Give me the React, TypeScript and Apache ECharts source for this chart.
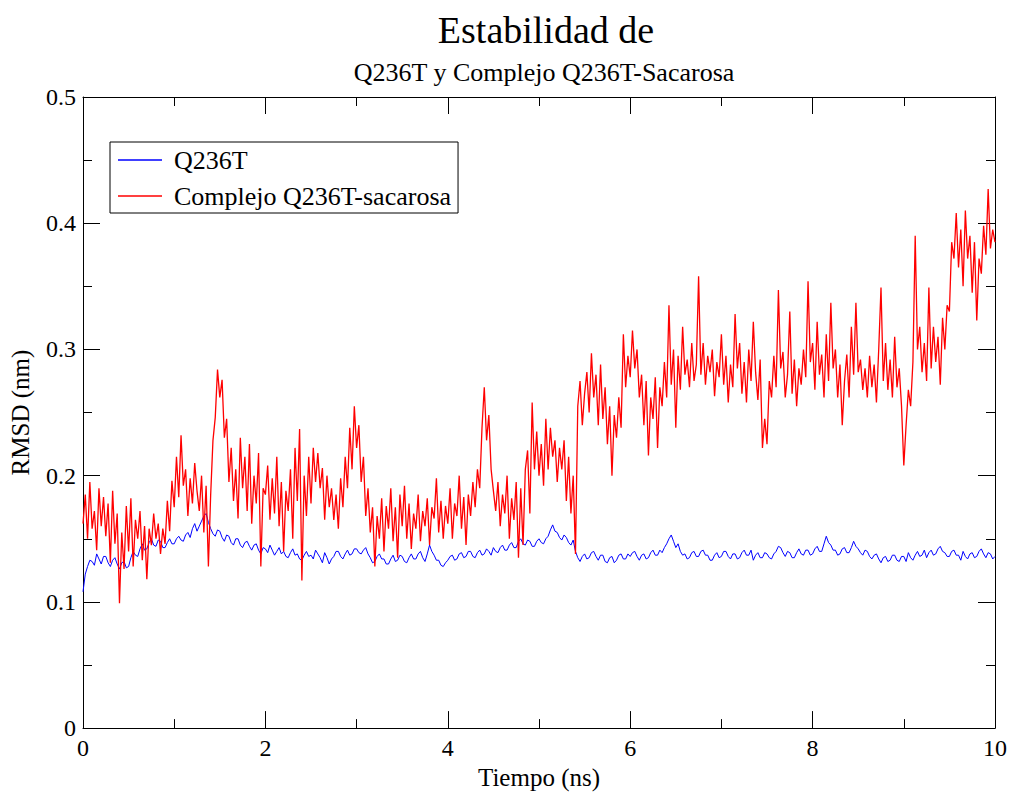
import React, { useEffect, useRef } from "react";
import * as echarts from "echarts";

// Text
const TITLE = "Estabilidad de";
const SUBTITLE = "Q236T y Complejo Q236T-Sacarosa";
const X_NAME = "Tiempo (ns)";
const Y_NAME = "RMSD (nm)";
const NAME_FREE = "Q236T";
const NAME_COMPLEX = "Complejo Q236T-sacarosa";

// Sampling interval of both trajectories (ns)
const STEP = 0.025;

// RMSD (nm) of the free protein, one value every STEP ns from 0 to 10
const rmsdFree = [
  0.108, 0.122, 0.128, 0.133, 0.132, 0.129, 0.138, 0.134, 0.130, 0.136, 0.136, 0.131, 0.128, 0.133, 0.135, 0.130, 0.126, 0.131, 0.132, 0.127,
  0.128, 0.135, 0.140, 0.137, 0.136, 0.142, 0.146, 0.141, 0.142, 0.147, 0.150, 0.145, 0.144, 0.149, 0.148, 0.143, 0.143, 0.147, 0.150, 0.146,
  0.146, 0.150, 0.152, 0.149, 0.148, 0.153, 0.155, 0.151, 0.158, 0.162, 0.156, 0.160, 0.164, 0.168, 0.170, 0.163, 0.158, 0.154, 0.152, 0.157,
  0.156, 0.151, 0.148, 0.153, 0.152, 0.147, 0.145, 0.150, 0.150, 0.145, 0.143, 0.147, 0.148, 0.144, 0.141, 0.145, 0.146, 0.141, 0.138, 0.143,
  0.142, 0.139, 0.145, 0.141, 0.137, 0.140, 0.143, 0.138, 0.140, 0.136, 0.135, 0.139, 0.142, 0.137, 0.138, 0.134, 0.133, 0.137, 0.140, 0.136,
  0.137, 0.134, 0.141, 0.138, 0.135, 0.131, 0.139, 0.135, 0.130, 0.134, 0.136, 0.140, 0.140, 0.136, 0.134, 0.138, 0.141, 0.137, 0.138, 0.142,
  0.142, 0.139, 0.138, 0.141, 0.143, 0.138, 0.135, 0.131, 0.132, 0.136, 0.138, 0.134, 0.134, 0.130, 0.130, 0.134, 0.137, 0.132, 0.133, 0.137,
  0.136, 0.132, 0.131, 0.135, 0.138, 0.134, 0.134, 0.138, 0.140, 0.135, 0.132, 0.138, 0.145, 0.140, 0.137, 0.133, 0.133, 0.129, 0.128, 0.131,
  0.133, 0.136, 0.137, 0.133, 0.134, 0.138, 0.139, 0.135, 0.136, 0.140, 0.140, 0.136, 0.135, 0.139, 0.141, 0.137, 0.138, 0.142, 0.140, 0.137,
  0.143, 0.140, 0.139, 0.143, 0.145, 0.141, 0.141, 0.145, 0.147, 0.143, 0.143, 0.148, 0.150, 0.146, 0.145, 0.149, 0.148, 0.144, 0.144, 0.148,
  0.150, 0.147, 0.146, 0.150, 0.152, 0.157, 0.161, 0.156, 0.155, 0.151, 0.149, 0.153, 0.151, 0.147, 0.145, 0.149, 0.140, 0.135, 0.132, 0.136,
  0.138, 0.134, 0.135, 0.139, 0.140, 0.136, 0.133, 0.137, 0.137, 0.132, 0.131, 0.135, 0.136, 0.131, 0.133, 0.137, 0.138, 0.134, 0.134, 0.138,
  0.136, 0.139, 0.140, 0.136, 0.133, 0.137, 0.138, 0.134, 0.135, 0.139, 0.141, 0.137, 0.137, 0.141, 0.139, 0.143, 0.146, 0.150, 0.153, 0.148,
  0.143, 0.146, 0.140, 0.137, 0.138, 0.134, 0.135, 0.139, 0.140, 0.136, 0.136, 0.140, 0.141, 0.137, 0.137, 0.133, 0.133, 0.137, 0.139, 0.135,
  0.136, 0.140, 0.140, 0.136, 0.134, 0.138, 0.138, 0.134, 0.135, 0.139, 0.141, 0.137, 0.137, 0.141, 0.133, 0.137, 0.139, 0.135, 0.135, 0.139,
  0.138, 0.135, 0.134, 0.138, 0.140, 0.144, 0.143, 0.139, 0.136, 0.140, 0.139, 0.135, 0.135, 0.139, 0.142, 0.138, 0.137, 0.141, 0.141, 0.137,
  0.138, 0.142, 0.144, 0.140, 0.140, 0.146, 0.152, 0.147, 0.145, 0.141, 0.141, 0.137, 0.138, 0.142, 0.143, 0.139, 0.139, 0.143, 0.148, 0.144,
  0.142, 0.139, 0.137, 0.141, 0.140, 0.136, 0.134, 0.137, 0.138, 0.134, 0.131, 0.135, 0.136, 0.132, 0.133, 0.137, 0.137, 0.133, 0.132, 0.136,
  0.136, 0.132, 0.139, 0.135, 0.133, 0.137, 0.140, 0.136, 0.137, 0.141, 0.135, 0.139, 0.141, 0.137, 0.138, 0.142, 0.144, 0.140, 0.139, 0.136,
  0.136, 0.140, 0.141, 0.137, 0.137, 0.133, 0.140, 0.136, 0.134, 0.138, 0.139, 0.135, 0.136, 0.140, 0.142, 0.138, 0.135, 0.139, 0.138, 0.134,
  0.136,
];

// RMSD (nm) of the protein-sucrose complex, one value every STEP ns from 0 to 10
const rmsdComplex = [
  0.162, 0.185, 0.150, 0.195, 0.158, 0.172, 0.141, 0.190, 0.160, 0.183,
  0.152, 0.178, 0.131, 0.188, 0.146, 0.170, 0.099, 0.155, 0.126, 0.176,
  0.140, 0.182, 0.128, 0.165, 0.150, 0.172, 0.133, 0.160, 0.118, 0.158,
  0.145, 0.170, 0.150, 0.162, 0.138, 0.158, 0.146, 0.180, 0.156, 0.196,
  0.175, 0.215, 0.183, 0.232, 0.192, 0.205, 0.168, 0.198, 0.178, 0.210,
  0.188, 0.172, 0.200, 0.155, 0.192, 0.128, 0.185, 0.228, 0.246, 0.284,
  0.262, 0.276, 0.230, 0.245, 0.195, 0.222, 0.180, 0.205, 0.166, 0.230,
  0.190, 0.215, 0.172, 0.225, 0.162, 0.200, 0.178, 0.218, 0.128, 0.190,
  0.185, 0.208, 0.165, 0.198, 0.170, 0.215, 0.160, 0.195, 0.140, 0.188,
  0.172, 0.205, 0.150, 0.222, 0.180, 0.237, 0.117, 0.200, 0.168, 0.215,
  0.178, 0.222, 0.195, 0.218, 0.190, 0.206, 0.165, 0.200, 0.175, 0.190,
  0.165, 0.185, 0.158, 0.198, 0.175, 0.215, 0.190, 0.238, 0.205, 0.255,
  0.222, 0.240, 0.195, 0.215, 0.168, 0.190, 0.155, 0.175, 0.128, 0.168,
  0.150, 0.182, 0.140, 0.176, 0.158, 0.190, 0.148, 0.175, 0.135, 0.185,
  0.160, 0.192, 0.150, 0.178, 0.142, 0.170, 0.158, 0.185, 0.148, 0.172,
  0.160, 0.182, 0.145, 0.175, 0.166, 0.198, 0.155, 0.180, 0.150, 0.176,
  0.162, 0.190, 0.150, 0.178, 0.168, 0.200, 0.158, 0.183, 0.145, 0.185,
  0.168, 0.195, 0.175, 0.205, 0.190, 0.238, 0.270, 0.228, 0.248, 0.205,
  0.188, 0.172, 0.195, 0.160, 0.185, 0.170, 0.200, 0.150, 0.182, 0.165,
  0.195, 0.135, 0.190, 0.145, 0.205, 0.220, 0.170, 0.258, 0.205, 0.235,
  0.200, 0.225, 0.192, 0.245, 0.205, 0.238, 0.215, 0.228, 0.195, 0.222,
  0.205, 0.228, 0.180, 0.215, 0.170, 0.200, 0.138, 0.255, 0.275, 0.240,
  0.265, 0.282, 0.250, 0.297, 0.262, 0.280, 0.240, 0.288, 0.245, 0.270,
  0.225, 0.255, 0.200, 0.248, 0.230, 0.262, 0.238, 0.312, 0.270, 0.295,
  0.278, 0.315, 0.285, 0.300, 0.262, 0.280, 0.240, 0.275, 0.216, 0.262,
  0.245, 0.278, 0.222, 0.270, 0.255, 0.290, 0.262, 0.335, 0.272, 0.300,
  0.238, 0.295, 0.268, 0.318, 0.280, 0.292, 0.270, 0.305, 0.275, 0.288,
  0.358, 0.280, 0.305, 0.272, 0.295, 0.282, 0.300, 0.263, 0.290, 0.278,
  0.312, 0.272, 0.295, 0.258, 0.288, 0.270, 0.328, 0.285, 0.305, 0.265,
  0.290, 0.258, 0.300, 0.275, 0.322, 0.282, 0.260, 0.292, 0.222, 0.245,
  0.225, 0.275, 0.262, 0.295, 0.270, 0.347, 0.285, 0.298, 0.262, 0.280,
  0.330, 0.265, 0.292, 0.255, 0.285, 0.272, 0.300, 0.278, 0.354, 0.290,
  0.305, 0.268, 0.322, 0.280, 0.296, 0.262, 0.312, 0.275, 0.337, 0.285,
  0.300, 0.262, 0.288, 0.240, 0.275, 0.296, 0.262, 0.318, 0.280, 0.337,
  0.282, 0.292, 0.268, 0.285, 0.262, 0.295, 0.270, 0.288, 0.258, 0.300,
  0.349, 0.275, 0.305, 0.268, 0.292, 0.262, 0.310, 0.270, 0.285, 0.255,
  0.208, 0.240, 0.268, 0.255, 0.290, 0.390, 0.300, 0.318, 0.282, 0.305,
  0.275, 0.349, 0.285, 0.318, 0.290, 0.310, 0.272, 0.325, 0.300, 0.335,
  0.330, 0.385, 0.372, 0.408, 0.365, 0.395, 0.350, 0.410, 0.372, 0.390,
  0.345, 0.385, 0.323, 0.372, 0.360, 0.398, 0.375, 0.427, 0.380, 0.395,
  0.385,
];

const FONT = "Liberation Serif";
const BLUE = "#0000ff";
const RED = "#ff0000";

const toPairs = (values: number[], step: number) =>
  values.map((v, i) => [Number((i * step).toFixed(3)), v]);

const frameAxis = {
  axisLine: { show: true, onZero: false, lineStyle: { color: "#000", width: 1 } },
  axisTick: { show: true, inside: true, length: 17, lineStyle: { color: "#000", width: 1 } },
  minorTick: { show: true, splitNumber: 2, length: 9, lineStyle: { color: "#000", width: 1 } },
  splitLine: { show: false },
  minorSplitLine: { show: false },
};

export default function App() {
  const ref = useRef<HTMLDivElement>(null);

  useEffect(() => {
    if (!ref.current) return;
    const chart = echarts.init(ref.current, null, { renderer: "svg" });

    const xBase = { type: "value", min: 0, max: 10, interval: 2, ...frameAxis };
    const yBase = { type: "value", min: 0, max: 0.5, interval: 0.1, ...frameAxis };
    const labelFont = { fontFamily: FONT, fontSize: 24, color: "#000" };
    const nameFont = { fontFamily: FONT, fontSize: 25, color: "#000" };

    chart.setOption({
      animation: false,
      backgroundColor: "#fff",
      textStyle: { fontFamily: FONT },
      title: [
        {
          text: TITLE,
          left: 541,
          top: 6,
          textAlign: "center",
          textStyle: { fontFamily: FONT, fontSize: 38, fontWeight: "normal", color: "#000" },
        },
        {
          text: SUBTITLE,
          left: 539,
          top: 54,
          textAlign: "center",
          textStyle: { fontFamily: FONT, fontSize: 26, fontWeight: "normal", color: "#000" },
        },
      ],
      grid: { left: 83, right: 16, top: 97, bottom: 59, containLabel: false },
      legend: {
        orient: "vertical",
        left: 110,
        top: 142,
        data: [
          { name: NAME_FREE, icon: "rect", itemStyle: { color: BLUE } },
          { name: NAME_COMPLEX, icon: "rect", itemStyle: { color: RED } },
        ],
        itemWidth: 44,
        itemHeight: 1.5,
        itemGap: 10,
        padding: [5, 7, 4, 8],
        borderColor: "#000",
        borderWidth: 1,
        backgroundColor: "#fff",
        textStyle: { fontFamily: FONT, fontSize: 26, color: "#000", padding: [0, 0, 0, 7] },
      },
      xAxis: [
        {
          ...xBase,
          position: "bottom",
          name: X_NAME,
          nameLocation: "middle",
          nameGap: 31,
          nameTextStyle: nameFont,
          axisLabel: { ...labelFont, margin: 8 },
        },
        { ...xBase, position: "top", axisLabel: { show: false } },
      ],
      yAxis: [
        {
          ...yBase,
          position: "left",
          name: Y_NAME,
          nameLocation: "middle",
          nameGap: 50,
          nameRotate: 90,
          nameTextStyle: nameFont,
          axisLabel: {
            ...labelFont,
            margin: 7,
            formatter: (v: number) => (v === 0 ? "0" : v.toFixed(1)),
          },
        },
        { ...yBase, position: "right", axisLabel: { show: false } },
      ],
      series: [
        {
          name: NAME_FREE,
          type: "line",
          xAxisIndex: 0,
          yAxisIndex: 0,
          data: toPairs(rmsdFree, STEP),
          symbol: "none",
          showSymbol: false,
          color: BLUE,
          lineStyle: { color: BLUE, width: 1 },
          z: 2,
        },
        {
          name: NAME_COMPLEX,
          type: "line",
          xAxisIndex: 0,
          yAxisIndex: 0,
          data: toPairs(rmsdComplex, STEP),
          symbol: "none",
          showSymbol: false,
          color: RED,
          lineStyle: { color: RED, width: 1.3 },
          z: 3,
        },
      ],
    });

    return () => chart.dispose();
  }, []);

  return (
    <div
      ref={ref}
      style={{ position: "absolute", left: 0, top: 0, width: 1011, height: 795, background: "#fff" }}
    />
  );
}
